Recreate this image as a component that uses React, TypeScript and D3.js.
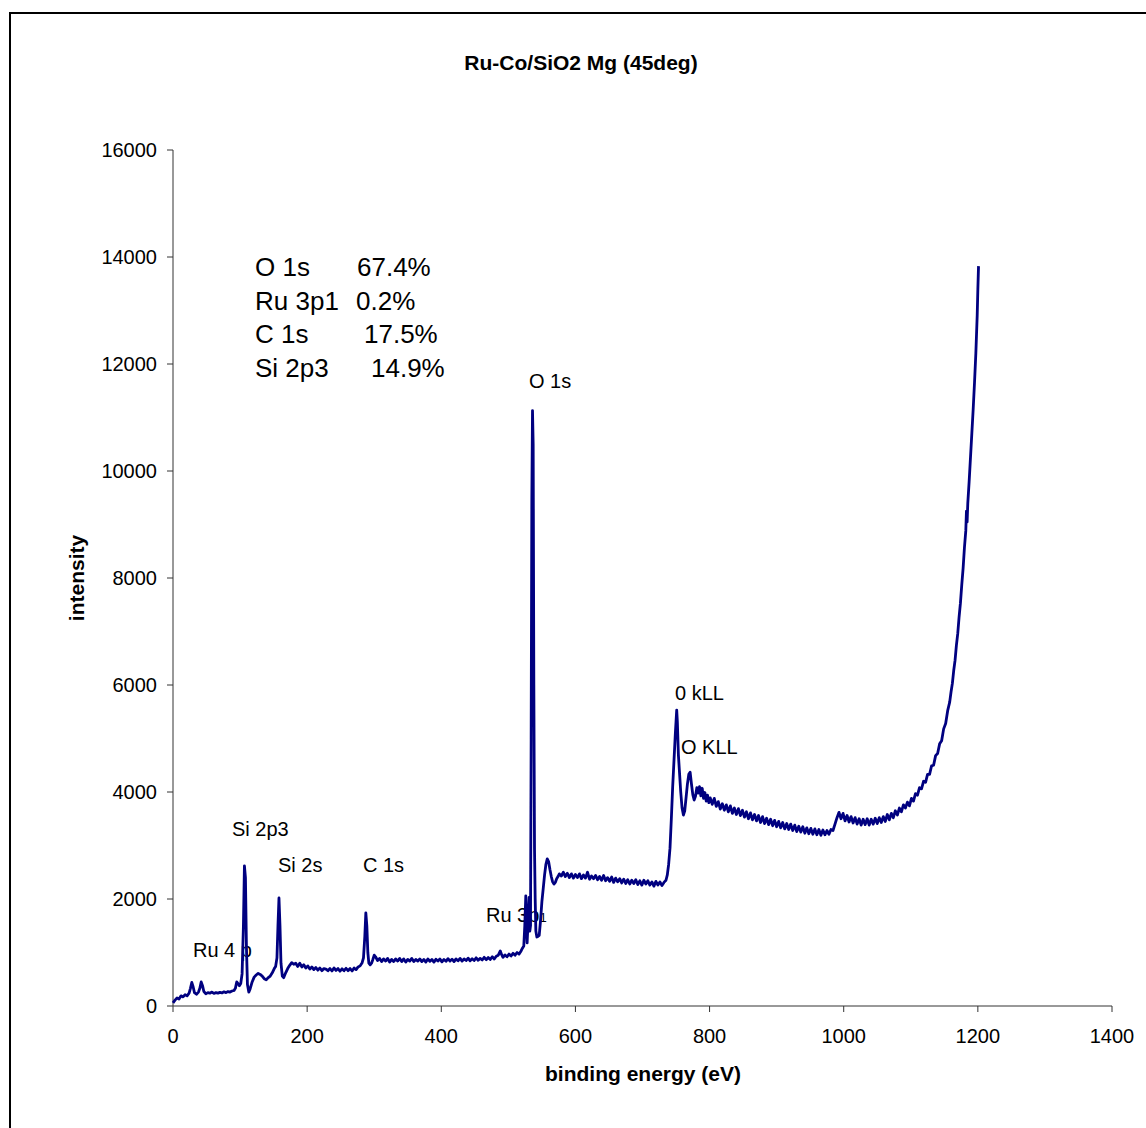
import React from "react";
import * as d3 from "d3";

// Survey spectrum, Ru-Co/SiO2, Mg anode, 45 deg take-off. [binding energy (eV), counts]
const ruSiRegion: [number, number][] = [
  [0, 60], [3, 110], [6, 150], [9, 130], [12, 190], [15, 170], [18, 210], [21, 190], [24, 240],
  [26, 330], [28, 440], [30, 360], [32, 250], [35, 220], [38, 260], [40, 330], [42, 450], [44, 380],
  [46, 270], [49, 230], [52, 250], [55, 240], [58, 260], [61, 235], [64, 250], [67, 240], [70, 255],
  [73, 245], [76, 265], [79, 250], [82, 270], [85, 260], [88, 280], [91, 290], [93, 330], [95, 450],
  [97, 420], [99, 380], [101, 420], [103, 600], [105, 1500], [106.5, 2620], [108, 2400], [109.5, 1100],
  [111, 400], [113, 260], [115, 320], [118, 450], [121, 540], [124, 580], [127, 610], [130, 590],
  [133, 560], [136, 510], [139, 490], [142, 530], [145, 560], [148, 620], [151, 700], [153, 740],
  [155, 900], [156.5, 1500], [158, 2020], [159.5, 1500], [161, 800], [163, 560], [165, 530], [168, 620],
  [171, 700], [174, 760], [177, 810], [180, 780], [183, 800], [186, 740], [189, 800], [192, 730],
  [195, 770], [198, 710], [201, 750], [204, 690], [207, 730], [210, 680], [213, 720], [216, 670],
  [219, 710], [222, 660], [225, 700], [228, 690], [231, 660], [234, 700], [237, 655], [240, 710],
  [243, 665], [246, 700], [249, 650], [252, 695], [255, 660], [258, 705], [261, 660], [264, 700],
  [267, 655], [270, 710], [273, 680], [276, 730], [279, 750], [282, 810],
];

const carbonRegion: [number, number][] = [
  [284, 900], [286, 1300], [287.5, 1740], [289, 1500], [290.5, 1000], [292, 800], [294, 770],
  [296, 800], [298, 870], [300, 950], [302, 920], [305, 850], [308, 890], [311, 830], [314, 880],
  [317, 840], [320, 890], [323, 820], [326, 870], [329, 830], [332, 880], [335, 840], [338, 890],
  [341, 830], [344, 880], [347, 820], [350, 870], [353, 840], [356, 890], [359, 830], [362, 870],
  [365, 840], [368, 880], [371, 830], [374, 870], [377, 820], [380, 880], [383, 835], [386, 870],
  [389, 820], [392, 875], [395, 840], [398, 880], [401, 825], [404, 870], [407, 835], [410, 885],
  [413, 840], [416, 875], [419, 830], [422, 880], [425, 845], [428, 890], [431, 840], [434, 880],
  [437, 850], [440, 895], [443, 845], [446, 885], [449, 850], [452, 900], [455, 855], [458, 890],
  [461, 860], [464, 910], [467, 865], [470, 905], [473, 870], [476, 920], [479, 880], [482, 930],
  [485, 950], [488, 1030], [490, 960], [492, 910], [495, 955], [498, 920], [501, 970], [504, 935],
  [507, 985], [510, 950], [513, 1000], [516, 970], [519, 1030], [521, 1080], [523, 1120],
];

const oxygenRegion: [number, number][] = [
  [524.5, 1500], [526, 2060], [527, 1600], [528, 1180], [529.5, 1600], [531, 2030], [532, 1400],
  [533, 1500], [534, 5000], [535, 9500], [536, 11130], [537, 10500], [538, 6000], [539, 2930],
  [540, 2000], [541, 1400], [542.5, 1290], [544, 1300], [546, 1320], [548, 1600], [550, 1950],
  [552, 2200], [554, 2450], [556, 2650], [558, 2750], [560, 2700], [562, 2550], [564, 2420],
  [566, 2320], [568, 2280], [570, 2310], [572, 2380], [574, 2420], [576, 2470], [579, 2430],
  [582, 2500], [585, 2420], [588, 2480], [591, 2400], [594, 2470], [597, 2390], [600, 2460],
  [603, 2400], [606, 2470], [609, 2380], [612, 2450], [615, 2390], [618, 2500], [621, 2370],
  [624, 2430], [627, 2380], [630, 2440], [633, 2360], [636, 2420], [639, 2350], [642, 2440],
  [645, 2340], [648, 2400], [651, 2330], [654, 2410], [657, 2310], [660, 2390], [663, 2320],
  [666, 2380], [669, 2300], [672, 2370], [675, 2290], [678, 2360], [681, 2280], [684, 2350],
  [687, 2290], [690, 2360], [693, 2270], [696, 2340], [699, 2260], [702, 2350], [705, 2280],
  [708, 2340], [711, 2260], [714, 2320], [717, 2240], [720, 2330], [723, 2260], [726, 2320],
  [729, 2250], [732, 2310], [735, 2350], [737, 2450],
];

const augerRegion: [number, number][] = [
  [739, 2650], [741, 2950], [743, 3500], [745, 4100], [747, 4600], [749, 5100], [751, 5530],
  [752, 5300], [753.5, 4700], [755, 4400], [757, 4000], [759, 3700], [761, 3570], [763, 3650],
  [765, 3900], [767, 4150], [769, 4330], [771, 4370], [773, 4150], [775, 3950], [777, 3850],
  [779, 3920], [781, 4080], [783, 3980], [785, 4100], [787, 3930], [789, 4070], [791, 3880],
  [793, 3990], [795, 3830], [797, 3940], [799, 3800], [801, 3890], [804, 3770], [807, 3880],
  [810, 3730], [813, 3820], [816, 3680], [819, 3780], [822, 3660], [825, 3760], [828, 3630],
  [831, 3740], [834, 3600], [837, 3700], [840, 3580], [843, 3690], [846, 3560], [849, 3660],
  [852, 3530], [855, 3630], [858, 3500], [861, 3610], [864, 3480], [867, 3580], [870, 3460],
  [873, 3560], [876, 3430], [879, 3540], [882, 3410], [885, 3510], [888, 3390], [891, 3490],
  [894, 3370], [897, 3470], [900, 3350], [903, 3450], [906, 3330], [909, 3430], [912, 3310],
  [915, 3410], [918, 3300], [921, 3400], [924, 3280], [927, 3380], [930, 3260], [933, 3360],
  [936, 3250], [939, 3350], [942, 3230], [945, 3330], [948, 3220], [951, 3320], [954, 3210],
  [957, 3310], [960, 3200], [963, 3300], [966, 3190], [969, 3290], [972, 3200], [975, 3280],
  [978, 3210], [981, 3300], [984, 3280], [987, 3400], [990, 3520], [993, 3620], [996, 3500],
];

const backgroundRise: [number, number][] = [
  [999, 3600], [1002, 3460], [1005, 3560], [1008, 3440], [1011, 3540], [1014, 3420], [1017, 3520],
  [1020, 3400], [1023, 3500], [1026, 3380], [1029, 3490], [1032, 3390], [1035, 3500], [1038, 3380],
  [1041, 3490], [1044, 3400], [1047, 3510], [1050, 3410], [1053, 3520], [1056, 3430], [1059, 3540],
  [1062, 3450], [1065, 3580], [1068, 3480], [1071, 3600], [1074, 3520], [1077, 3650], [1080, 3570],
  [1083, 3700], [1086, 3630], [1089, 3760], [1092, 3700], [1095, 3810], [1098, 3740], [1101, 3880],
  [1104, 3830], [1107, 3970], [1110, 3940], [1113, 4080], [1116, 4060], [1119, 4200], [1122, 4180],
  [1125, 4330], [1128, 4330], [1131, 4490], [1134, 4500], [1137, 4680], [1140, 4720], [1143, 4900],
  [1146, 4960], [1149, 5180], [1152, 5280], [1155, 5520], [1158, 5680], [1160, 5870], [1162, 6030],
  [1164, 6270], [1166, 6460], [1168, 6740], [1170, 6960], [1172, 7270], [1174, 7530], [1176, 7870],
  [1178, 8180], [1180, 8570], [1182, 8880], [1183, 9250], [1184, 9050], [1185, 9400], [1187, 9800],
  [1189, 10250], [1191, 10700], [1193, 11150], [1195, 11650], [1197, 12200], [1199, 12900],
  [1200, 13400], [1201, 13830],
];

const xTicks = [0, 200, 400, 600, 800, 1000, 1200, 1400];
const yTicks = [0, 2000, 4000, 6000, 8000, 10000, 12000, 14000, 16000];

const composition = [
  { element: "O 1s", pct: "67.4%", dx: 102 },
  { element: "Ru 3p1", pct: "0.2%", dx: 101 },
  { element: "C 1s", pct: "17.5%", dx: 109 },
  { element: "Si 2p3", pct: "14.9%", dx: 116 },
];

const peakLabels = [
  { text: "O 1s", x: 529, y: 388 },
  { text: "0 kLL", x: 675, y: 700 },
  { text: "O KLL", x: 681, y: 754 },
  { text: "Si 2p3", x: 232, y: 836 },
  { text: "Si 2s", x: 278, y: 872 },
  { text: "C 1s", x: 363, y: 872 },
  { text: "Ru 4 p", x: 193, y: 957 },
];

const FONT = "'Liberation Sans', Arial, sans-serif";
const LINE_COLOR = "#000080";

export default function App() {
  const x = d3.scaleLinear().domain([0, 1400]).range([173, 1112]);
  const y = d3.scaleLinear().domain([0, 16000]).range([1006, 150]);
  const spectrum = [
    ...ruSiRegion,
    ...carbonRegion,
    ...oxygenRegion,
    ...augerRegion,
    ...backgroundRise,
  ];
  const path = d3
    .line<[number, number]>()
    .x((d) => x(d[0]))
    .y((d) => y(d[1]))(spectrum) as string;

  return (
    <svg
      width={1146}
      height={1128}
      style={{ position: "absolute", left: 0, top: 0, display: "block", background: "#fff" }}
      fontFamily={FONT}
    >
      <rect x={0} y={0} width={1146} height={1128} fill="#fff" />
      <rect x={10} y={13} width={1160} height={1140} fill="none" stroke="#000" strokeWidth={2} />

      <text x={581} y={70} textAnchor="middle" fontSize={21} fontWeight="bold">
        Ru-Co/SiO2 Mg (45deg)
      </text>

      {/* axes */}
      <line x1={173} x2={173} y1={150} y2={1006} stroke="#333" strokeWidth={1} />
      <line x1={173} x2={1112} y1={1006} y2={1006} stroke="#333" strokeWidth={1} />
      {yTicks.map((t) => (
        <g key={"y" + t}>
          <line x1={167} x2={173} y1={y(t)} y2={y(t)} stroke="#333" />
          <text x={157} y={y(t) + 7} textAnchor="end" fontSize={20}>
            {t}
          </text>
        </g>
      ))}
      {xTicks.map((t) => (
        <g key={"x" + t}>
          <line x1={x(t)} x2={x(t)} y1={1006} y2={1012} stroke="#333" />
          <text x={x(t)} y={1043} textAnchor="middle" fontSize={20}>
            {t}
          </text>
        </g>
      ))}
      <text x={643} y={1081} textAnchor="middle" fontSize={21} fontWeight="bold">
        binding energy (eV)
      </text>
      <text
        transform="translate(84,578) rotate(-90)"
        textAnchor="middle"
        fontSize={21}
        fontWeight="bold"
      >
        intensity
      </text>

      {/* composition table */}
      {composition.map((c, i) => (
        <g key={c.element} fontSize={26}>
          <text x={255} y={276 + i * 33.6}>{c.element}</text>
          <text x={255 + c.dx} y={276 + i * 33.6}>{c.pct}</text>
        </g>
      ))}

      {/* peak labels */}
      {peakLabels.map((p) => (
        <text key={p.text} x={p.x} y={p.y} fontSize={20}>
          {p.text}
        </text>
      ))}
      <text x={486} y={922} fontSize={20}>
        Ru 3p<tspan fontSize={13}>1</tspan>
      </text>

      <path d={path} fill="none" stroke={LINE_COLOR} strokeWidth={2.8} strokeLinejoin="round" />
    </svg>
  );
}
